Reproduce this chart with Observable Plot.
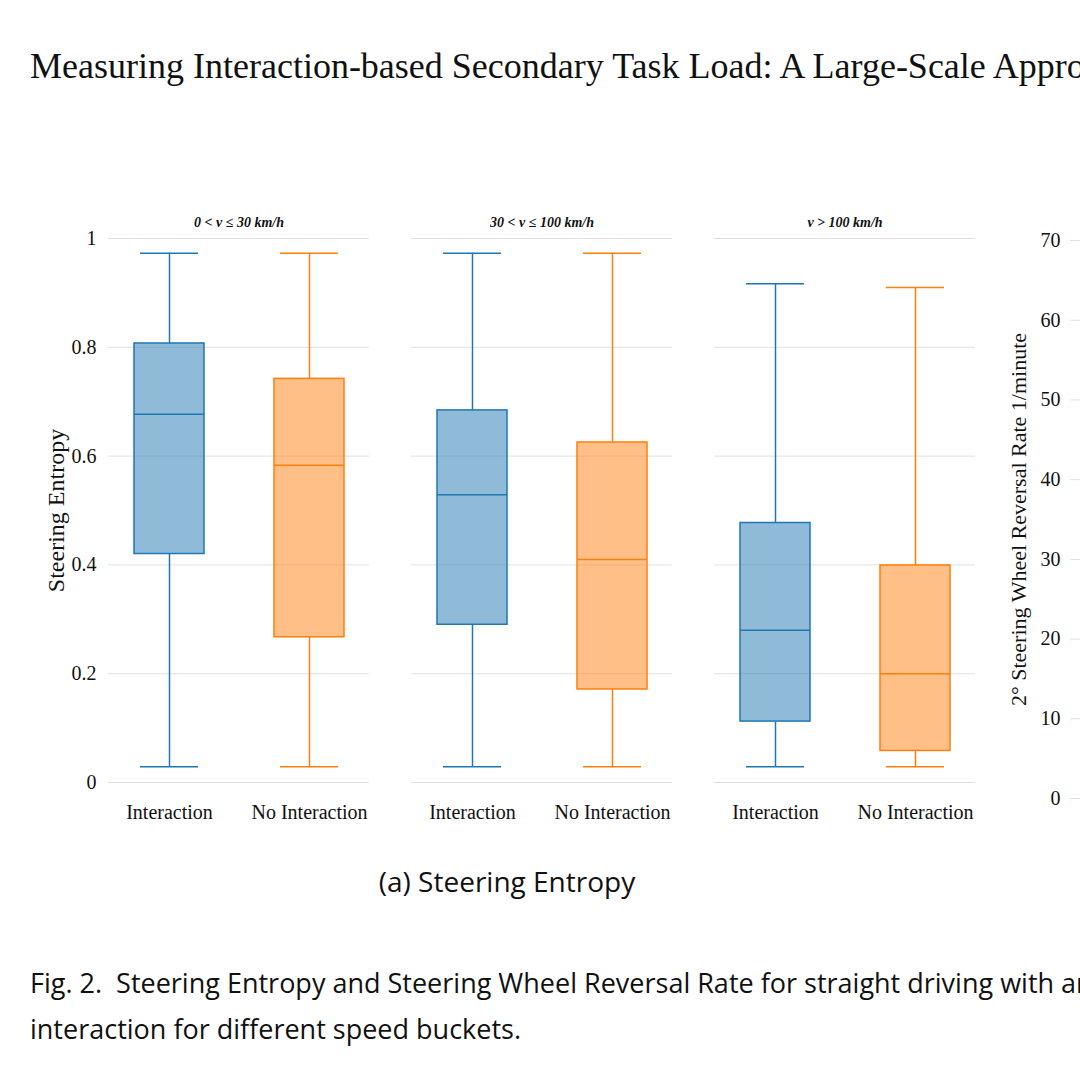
<!DOCTYPE html>
<html>
<head>
<meta charset="utf-8">
<script src="https://cdn.jsdelivr.net/npm/d3@7"></script>
<script src="https://cdn.jsdelivr.net/npm/@observablehq/plot@0.6"></script>
<style>
  html, body { margin: 0; padding: 0; background: #fff; }
  body { width: 1080px; height: 1080px; overflow: hidden; position: relative; font-family: "Liberation Serif", serif; }
  #title { position: absolute; left: 30px; top: 45px; font-size: 36px; white-space: nowrap; color: #111; }
  #chart { position: absolute; left: 0; top: 190px; }
  #chart2 { position: absolute; left: 1000px; top: 192px; width: 320px; }
  #chart svg, #chart2 svg { max-width: none !important; }
  #sub { position: absolute; left: 0; width: 1014px; top: 862px; text-align: center; font-family: "Open Sans", sans-serif; font-size: 28px; color: #111; }
  #cap { position: absolute; left: 30px; top: 960px; font-family: "Open Sans", sans-serif; font-size: 27px; line-height: 46px; white-space: nowrap; color: #111; }
</style>
</head>
<body>
<div id="title">Measuring Interaction-based Secondary Task Load: A Large-Scale Approach</div>
<div id="chart"></div>
<div id="chart2"></div>
<div id="sub">(a) Steering Entropy</div>
<div id="cap">Fig. 2.&nbsp; Steering Entropy and Steering Wheel Reversal Rate for straight driving with and without<br>interaction for different speed buckets.</div>
<script>
// speed buckets and groups
const buckets = ["0 < v ≤ 30 km/h", "30 < v ≤ 100 km/h", "v > 100 km/h"];
const groups = ["Interaction", "No Interaction"];
// box summaries per bucket, [Interaction, No Interaction]
const mins    = [[0.029, 0.029], [0.029, 0.029], [0.029, 0.029]];
const q1s     = [[0.420, 0.267], [0.290, 0.171], [0.112, 0.058]];
const medians = [[0.677, 0.583], [0.529, 0.410], [0.280, 0.200]];
const q3s     = [[0.807, 0.742], [0.684, 0.625], [0.477, 0.399]];
const maxs    = [[0.973, 0.973], [0.973, 0.973], [0.917, 0.910]];
const yTicks = [0, 0.2, 0.4, 0.6, 0.8, 1];
const yTicks2 = [0, 10, 20, 30, 40, 50, 60, 70];

const rows = [];
buckets.forEach((b, i) => groups.forEach((g, j) => rows.push({
  bucket: b, group: g,
  min: mins[i][j], q1: q1s[i][j], med: medians[i][j], q3: q3s[i][j], max: maxs[i][j]
})));

const colors = {domain: groups, range: ["#1f77b4", "#ff7f0e"]};

const chart = Plot.plot({
  width: 990,
  height: 652,
  marginLeft: 108,
  marginRight: 15,
  marginTop: 48,
  marginBottom: 60,
  style: {fontFamily: "Liberation Serif, serif", fontSize: "20px", color: "#111"},
  fx: {domain: buckets, padding: 0.14, axis: "top", label: null, tickSize: 0, tickPadding: 12},
  x: {domain: groups, paddingInner: 0.5, paddingOuter: 0.18, label: null, tickSize: 0, tickPadding: 22},
  y: {domain: [0, 1], ticks: yTicks, tickFormat: d => String(d), label: "Steering Entropy", labelAnchor: "center", labelArrow: "none", labelOffset: 62, tickSize: 0, tickPadding: 12},
  color: colors,
  marks: [
    Plot.ruleY(yTicks, {stroke: "#e0e0e0"}),
    Plot.ruleX(rows, {fx: "bucket", x: "group", y1: "min", y2: "q1", stroke: "group", strokeWidth: 1.5}),
    Plot.ruleX(rows, {fx: "bucket", x: "group", y1: "q3", y2: "max", stroke: "group", strokeWidth: 1.5}),
    Plot.tickY(rows, {fx: "bucket", x: "group", y: "min", stroke: "group", strokeWidth: 1.5, insetLeft: 6, insetRight: 6}),
    Plot.tickY(rows, {fx: "bucket", x: "group", y: "max", stroke: "group", strokeWidth: 1.5, insetLeft: 6, insetRight: 6}),
    Plot.barY(rows, {fx: "bucket", x: "group", y1: "q1", y2: "q3", fill: "group", fillOpacity: 0.5, stroke: "group", strokeWidth: 1.5}),
    Plot.tickY(rows, {fx: "bucket", x: "group", y: "med", stroke: "group", strokeWidth: 1.5})
  ]
});
d3.select(chart).selectAll("[aria-label='fx-axis tick label'] text")
  .style("font-weight", "bold").style("font-style", "italic").style("font-size", "14px");
d3.select(chart).selectAll("[aria-label='y-axis label'] text").style("font-size", "24px");
d3.select("#chart").append(() => chart);

// second, cut-off panel (reversal rate)
const chart2 = Plot.plot({
  width: 320,
  height: 660,
  marginLeft: 70,
  marginRight: 0,
  marginTop: 48,
  marginBottom: 54,
  style: {fontFamily: "Liberation Serif, serif", fontSize: "20px", color: "#111"},
  x: {domain: groups, paddingInner: 0.5, paddingOuter: 0.2, label: null, tickSize: 0, tickPadding: 22},
  y: {domain: [0, 70], ticks: yTicks2, label: "2° Steering Wheel Reversal Rate 1/minute", labelAnchor: "center", labelArrow: "none", labelOffset: 60, tickSize: 0, tickPadding: 10},
  marks: [
    Plot.ruleY(yTicks2, {stroke: "#e0e0e0"}),
    Plot.axisX({tickSize: 0, tickPadding: 22})
  ]
});
d3.select(chart2).selectAll("[aria-label='y-axis label'] text").style("font-size", "22px");
d3.select("#chart2").append(() => chart2);
</script>
</body>
</html>
